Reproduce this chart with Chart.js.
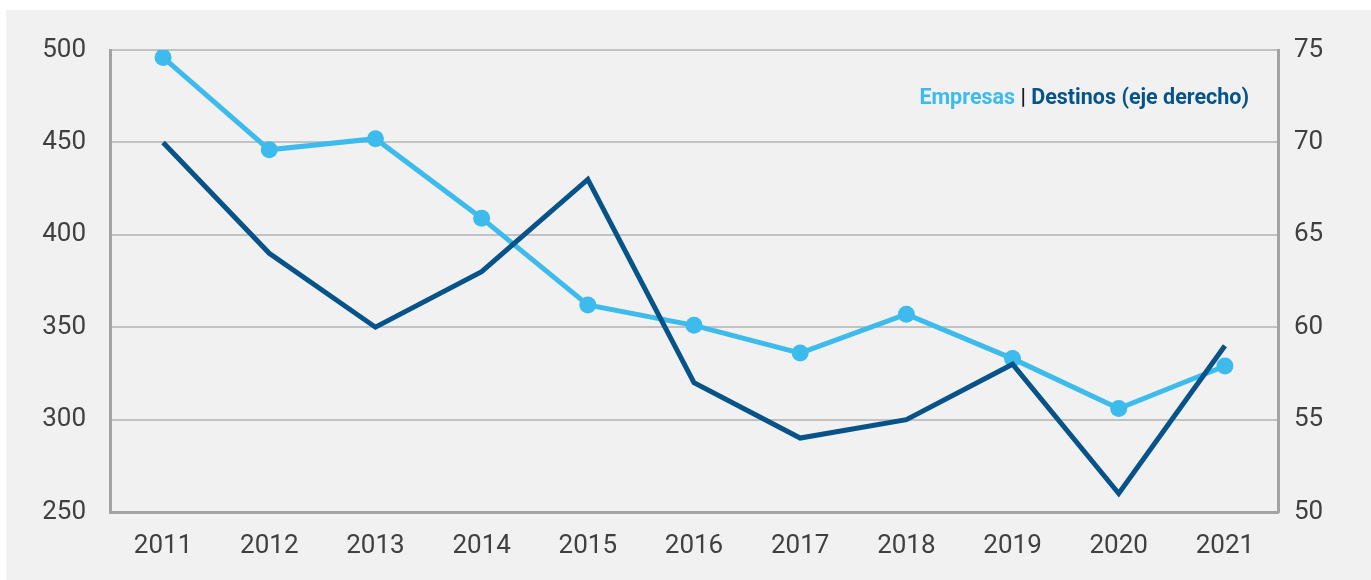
<!DOCTYPE html>
<html>
<head>
<meta charset="utf-8">
<script src="https://cdn.jsdelivr.net/npm/chart.js@4"></script>
<style>
    html, body { margin: 0; padding: 0; background: #ffffff; }
    #wrap { position: absolute; left: 6px; top: 10px; width: 1365px; height: 570px; background: #f1f1f1; }
    #legend { position: absolute; right: 122px; top: 74px; font-family: Roboto, sans-serif; font-weight: bold; font-size: 21.5px; color: #1a1a1a; }
    #legend .emp { color: #3dbbec; }
    #legend .des { color: #06538a; }
</style>
</head>
<body>
<div id="wrap">
    <canvas id="chart" width="1365" height="570"></canvas>
    <div id="legend"><span class="emp">Empresas</span> | <span class="des">Destinos (eje derecho)</span></div>
</div>
<script>
const years = ['2011', '2012', '2013', '2014', '2015', '2016', '2017', '2018', '2019', '2020', '2021'];
const empresas = [496, 446, 452, 409, 362, 351, 336, 357, 333, 306, 329];
const destinos = [70, 64, 60, 63, 68, 57, 54, 55, 58, 51, 59];

const lightBlue = '#3dbbec';
const darkBlue = '#06538a';
const tickFont = { family: 'Roboto', size: 26 };

document.addEventListener('DOMContentLoaded', () => {
    const ctx = document.getElementById('chart').getContext('2d');
    new Chart(ctx, {
        type: 'line',
        data: {
            labels: years,
            datasets: [{
                label: 'Destinos (eje derecho)',
                data: destinos,
                yAxisID: 'y2',
                borderColor: darkBlue,
                backgroundColor: darkBlue,
                borderWidth: 5,
                pointRadius: 0,
                tension: 0,
                order: 0
            }, {
                label: 'Empresas',
                data: empresas,
                yAxisID: 'y',
                borderColor: lightBlue,
                backgroundColor: lightBlue,
                borderWidth: 5,
                pointRadius: 8.5,
                pointBorderWidth: 0,
                tension: 0,
                order: 1
            }]
        },
        options: {
            responsive: false,
            animation: false,
            layout: { padding: { top: 40, right: 0, bottom: 0, left: 0 } },
            plugins: {
                legend: { display: false },
                tooltip: { enabled: false }
            },
            scales: {
                x: {
                    offset: true,
                    grid: { display: false, drawTicks: false },
                    border: { display: true, color: '#a3a3a3', width: 3 },
                    ticks: { font: tickFont, color: '#404040', padding: 19, maxRotation: 0 },
                    afterFit: s => { s.height = 68; }
                },
                y: {
                    position: 'left',
                    min: 250,
                    max: 500,
                    grid: { color: '#c2c2c2', lineWidth: 2, drawTicks: false },
                    border: { display: true, color: '#a3a3a3', width: 3 },
                    ticks: { stepSize: 50, font: tickFont, color: '#404040', padding: 24 },
                    afterFit: s => { s.width = 104; }
                },
                y2: {
                    position: 'right',
                    min: 50,
                    max: 75,
                    grid: { display: false, drawTicks: false },
                    border: { display: true, color: '#a3a3a3', width: 3 },
                    ticks: { stepSize: 5, font: tickFont, color: '#404040', padding: 16 },
                    afterFit: s => { s.width = 93; }
                }
            }
        }
    });
});
</script>
</body>
</html>
